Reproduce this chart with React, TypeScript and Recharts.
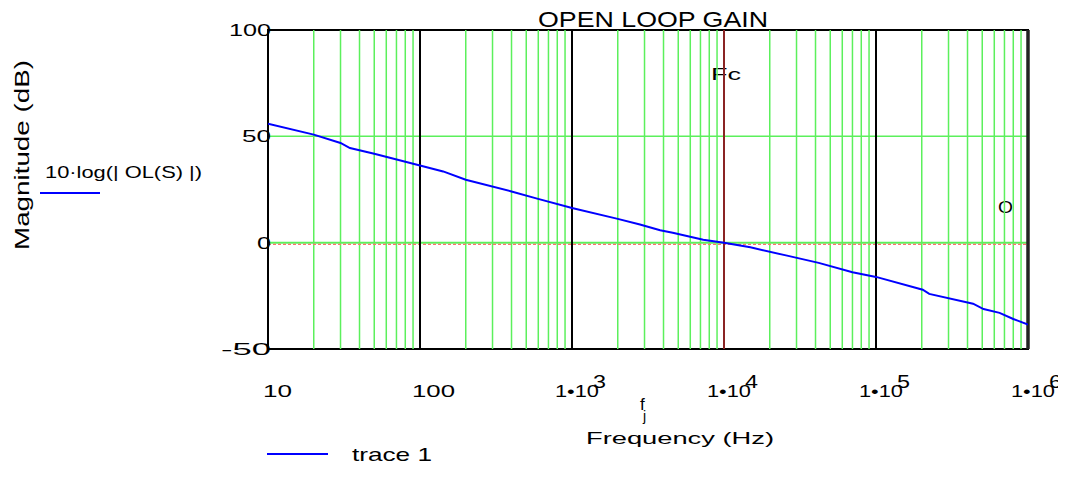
import React from "react";
import {
  ComposedChart,
  Line,
  XAxis,
  YAxis,
  ReferenceLine,
  ReferenceArea,
} from "recharts";

// values (frequency in Hz, gain in dB)
const freqHz = [
  10, 20, 30, 34.6, 50, 100, 142, 200, 400, 590, 1000, 1970, 2800, 3800, 4600,
  7300, 10000, 14900, 26000, 42000, 70000, 100000, 203000, 224000, 435000,
  510000, 650000, 800000, 1000000,
];
const gainDb = [
  55.9, 50.8, 46.9, 44.5, 41.8, 36.3, 33.5, 29.6, 24.1, 20.7, 16.3, 11.3, 8.5,
  5.8, 4.7, 1.4, 0, -2.2, -6.1, -9.5, -13.9, -16.1, -22.1, -24.1, -28.7, -31.2,
  -33, -35.9, -38.5,
];

const decades = [10, 100, 1000, 10000, 100000, 1000000];
const decadeExp = ["", "", "3", "4", "5", "6"];
const minorSteps = [2, 3, 4, 5, 6, 7, 8, 9];
const gainTicks = [-50, 0, 50, 100];
const gainTickWidths: Record<number, number> = { "-50": 50, 0: 14, 50: 29, 100: 42 };
const fcHz = 10000;

const data = freqHz.map((f, i) => ({ f, gain: gainDb[i] }));
const minorGrid = decades.slice(0, -1).flatMap((d) => minorSteps.map((m) => d * m));

const FONT = "'Liberation Sans', Arial, sans-serif";
const GREEN = "#5cf05c";

const FreqTick = (props: any) => {
  const { x, payload } = props;
  const i = decades.indexOf(payload.value);
  const base = 397;
  if (i < 2) {
    return (
      <text
        x={x - (i === 0 ? 5 : 8)}
        y={base}
        fontSize={17}
        fontFamily={FONT}
        fill="#000"
        textLength={i === 0 ? 29 : 43}
        lengthAdjust="spacingAndGlyphs"
      >
        {String(payload.value)}
      </text>
    );
  }
  return (
    <g fontFamily={FONT} fill="#000">
      <text x={x - 17} y={base} fontSize={17} textLength={44} lengthAdjust="spacingAndGlyphs">
        1•10
      </text>
      <text x={x + 21} y={388} fontSize={18} textLength={13} lengthAdjust="spacingAndGlyphs">
        {decadeExp[i]}
      </text>
    </g>
  );
};

const GainTick = (props: any) => {
  const { y, payload } = props;
  return (
    <text
      x={271}
      y={y + 6}
      textAnchor="end"
      fontSize={16}
      fontFamily={FONT}
      fill="#000"
      textLength={gainTickWidths[payload.value]}
      lengthAdjust="spacingAndGlyphs"
    >
      {payload.value}
    </text>
  );
};

export default function App() {
  return (
    <div style={{ margin: -8, background: "#fff" }}>
      <ComposedChart
        width={1066}
        height={480}
        data={data}
        margin={{ top: 30, right: 38, left: 0, bottom: 0 }}
      >
        <XAxis
          dataKey="f"
          type="number"
          scale="log"
          domain={[10, 1000000]}
          ticks={decades}
          allowDataOverflow
          axisLine={false}
          tickLine={false}
          height={131}
          tick={<FreqTick />}
          interval={0}
        />
        <YAxis
          type="number"
          domain={[-50, 100]}
          ticks={gainTicks}
          allowDataOverflow
          axisLine={false}
          tickLine={false}
          width={268}
          tick={<GainTick />}
          interval={0}
        />

        {/* minor log grid */}
        {minorGrid.map((v) => (
          <ReferenceLine key={`m-${v}`} x={v} stroke={GREEN} strokeWidth={1.5} />
        ))}
        <ReferenceLine y={50} stroke={GREEN} strokeWidth={1.5} />
        <ReferenceLine y={0} stroke={GREEN} strokeWidth={2} />
        <ReferenceLine y={-0.8} stroke="#ff7070" strokeWidth={1.2} strokeDasharray="3 2" />

        {/* decade lines */}
        {[100, 1000, 100000].map((v) => (
          <ReferenceLine key={`d-${v}`} x={v} stroke="#000" strokeWidth={2} />
        ))}
        <ReferenceLine x={fcHz} stroke="#8a2424" strokeWidth={2} />

        <ReferenceArea
          x1={10}
          x2={1000000}
          y1={-50}
          y2={100}
          fill="none"
          fillOpacity={0}
          stroke="#000"
          strokeWidth={2}
        />
        <ReferenceLine x={1000000} stroke="#222" strokeWidth={3.5} />

        <Line
          dataKey="gain"
          type="linear"
          stroke="#0000ff"
          strokeWidth={2}
          dot={false}
          isAnimationActive={false}
          name="trace 1"
        />

        {/* title and annotations */}
        <text x={653} y={27} textAnchor="middle" fontSize={22} fontFamily={FONT} textLength={230} lengthAdjust="spacingAndGlyphs">
          OPEN LOOP GAIN
        </text>
        <text x={711} y={80} fontSize={16} fontFamily={FONT} textLength={30} lengthAdjust="spacingAndGlyphs">
          Fc
        </text>
        <text x={998} y={213} fontSize={16} fontFamily={FONT} textLength={15} lengthAdjust="spacingAndGlyphs">
          O
        </text>

        {/* y axis label and trace name */}
        <text
          transform="translate(29,155) rotate(-90)"
          textAnchor="middle"
          fontSize={21}
          fontFamily={FONT}
          textLength={190}
          lengthAdjust="spacingAndGlyphs"
        >
          Magnitude (dB)
        </text>
        <text x={45} y={178} fontSize={17} fontFamily={FONT} textLength={157} lengthAdjust="spacingAndGlyphs">
          10·log(| OL(S) |)
        </text>
        <line x1={40} y1={193} x2={100} y2={193} stroke="#0000ff" strokeWidth={2} />

        {/* x axis label */}
        <text x={640} y={410} fontSize={17} fontFamily={FONT}>
          f
        </text>
        <text x={643} y={421} fontSize={14} fontFamily={FONT}>
          j
        </text>
        <text x={680} y={444} textAnchor="middle" fontSize={16} fontFamily={FONT} textLength={188} lengthAdjust="spacingAndGlyphs">
          Frequency (Hz)
        </text>

        {/* legend */}
        <line x1={267} y1={454} x2={328} y2={454} stroke="#0000ff" strokeWidth={2} />
        <text x={352} y={461} fontSize={19} fontFamily={FONT} textLength={80} lengthAdjust="spacingAndGlyphs">
          trace 1
        </text>
      </ComposedChart>
    </div>
  );
}
